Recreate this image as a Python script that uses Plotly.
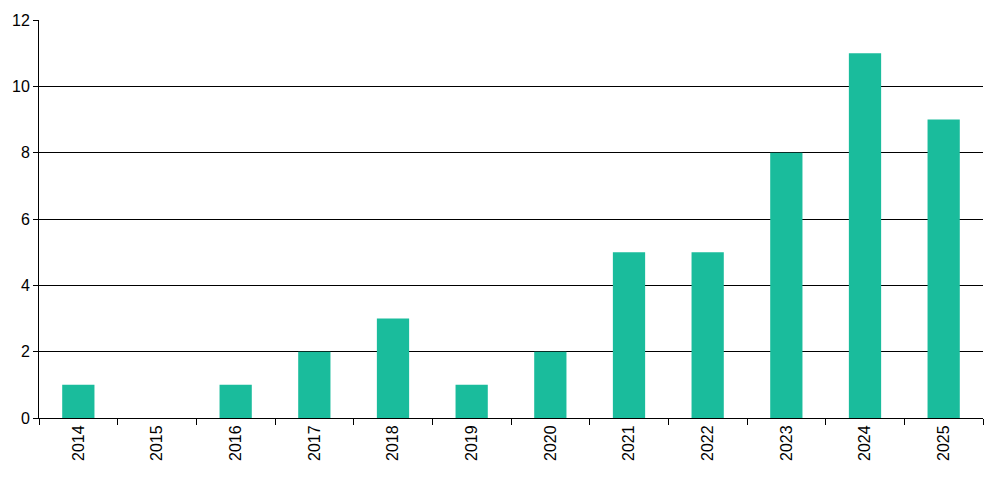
import plotly.graph_objects as go

years = ["2014", "2015", "2016", "2017", "2018", "2019",
         "2020", "2021", "2022", "2023", "2024", "2025"]
counts = [1, 0, 1, 2, 3, 1, 2, 5, 5, 8, 11, 9]

fig = go.Figure(go.Bar(x=years, y=counts, marker_color="#1ABC9C",
                       marker_line_width=0))

# page body has an 8px margin, so size the figure to fit inside it
fig.update_layout(
    width=976, height=464,
    margin=dict(l=31, r=1, t=12, b=54),
    plot_bgcolor="white", paper_bgcolor="white",
    font=dict(family="Liberation Sans, Arial, sans-serif", size=16, color="black"),
    bargap=0.59,
    showlegend=False,
)
fig.update_xaxes(
    type="category", tickangle=-90, tickson="boundaries",
    ticks="outside", ticklen=6, tickcolor="black",
    showline=True, linecolor="black", linewidth=1,
    showgrid=False,
)
fig.update_yaxes(
    range=[0, 12], dtick=2, ticks="outside", ticklen=5, tickcolor="black",
    showline=True, linecolor="black", linewidth=1,
    showgrid=True, gridcolor="black", gridwidth=1,
    zeroline=False,
)

fig.write_html("out.html")
